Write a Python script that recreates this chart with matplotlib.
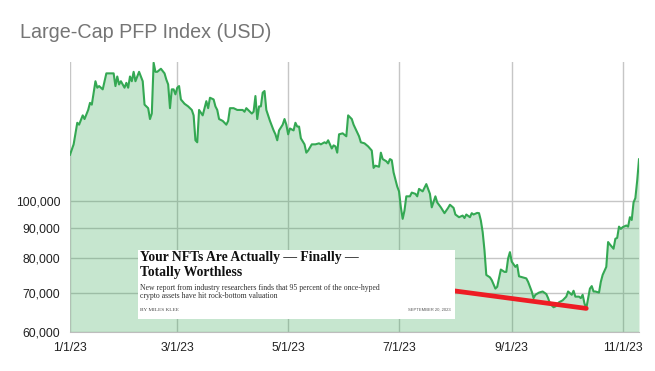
import matplotlib
matplotlib.use("Agg")
import matplotlib.pyplot as plt
import matplotlib.ticker as mticker
from matplotlib.patches import Rectangle
import pandas as pd

# ---- data (day offset from 2023-01-01, index value in thousands USD) ----
day_offsets = [0, 2, 4, 5, 7, 8, 10, 11, 12, 14, 15, 16, 18, 20, 22, 24, 25, 26, 27, 28,
               30, 31, 32, 33, 34, 35, 36, 37, 38, 40, 41, 43, 44, 45, 46, 47, 48, 50, 52, 53,
               54, 55, 56, 57, 58, 59, 60, 61, 63, 65, 67, 68, 69, 70, 71, 73, 75, 76, 77, 79,
               80, 81, 82, 84, 86, 87, 88, 90, 92, 93, 95, 96, 97, 98, 100, 101, 102, 103, 104, 105,
               106, 107, 108, 110, 112, 113, 114, 115, 117, 118, 119, 120, 121, 123, 124, 125, 126, 127, 129, 130,
               131, 133, 135, 137, 138, 140, 141, 142, 144, 145, 146, 147, 148, 150, 152, 153, 155, 156, 157, 159,
               160, 162, 164, 166, 167, 168, 170, 171, 172, 174, 175, 176, 177, 178, 179, 180, 181, 182, 183, 184,
               185, 186, 187, 188, 190, 191, 192, 194, 196, 198, 199, 201, 202, 204, 206, 208, 209, 211, 212, 214,
               216, 217, 218, 220, 221, 222, 224, 225, 226, 227, 228, 229, 231, 232, 234, 235, 236, 237, 239, 240,
               241, 242, 243, 245, 246, 247, 249, 251, 252, 254, 255, 256, 258, 260, 262, 263, 264, 266, 267, 269,
               271, 273, 274, 276, 277, 278, 280, 281, 282, 283, 284, 286, 287, 288, 289, 291, 292, 293, 295, 296,
               297, 299, 300, 301, 302, 303, 304, 306, 307, 308, 309, 310, 311, 312, 313]
index_k = [120, 125, 136, 135, 140, 138, 143, 147, 146, 160, 156, 157, 155, 165, 165, 165, 157, 163, 158, 160,
           156, 159, 156, 163, 160, 166, 160, 163, 166, 160, 146, 144, 138, 141, 172, 166, 166, 168, 165, 161,
           158, 144, 155, 155, 152, 156, 157, 149, 146.5, 145, 143, 140, 127, 126, 143, 140, 148, 144, 150, 149,
           145, 143, 138, 137, 135, 137, 144, 144, 143, 143, 143, 142, 144, 143, 141, 142, 151, 138, 145, 145,
           153, 154, 143, 137, 132, 130, 127, 132, 135, 138, 135, 130, 133, 132, 136, 134, 134, 128, 125, 121,
           122, 125, 125, 125.5, 125, 126, 125.5, 127, 123, 124.5, 124, 121, 130, 130.5, 129, 140, 138, 135, 133, 129,
           126, 125.5, 124, 122, 114, 115, 114.5, 121, 118, 117, 116, 118, 117.5, 112, 109, 106, 104, 97.7, 93.4, 96.5,
           102, 102, 102, 103.5, 103, 102, 105, 104, 107, 103, 97.7, 102, 99.6, 97.7, 95.5, 97.5, 98.7, 97.5, 95, 94,
           94.6, 93.7, 95, 94, 95.5, 95, 95.6, 95.5, 92.8, 88.7, 82.6, 75, 74.3, 73.5, 71.1, 71.6, 74, 76.6, 75.9, 75.9,
           80, 82, 79, 77.4, 78, 74.6, 74.3, 74, 73, 70.3, 68.5, 69.4, 70, 70.3, 69.6, 68.5, 67.1, 66.1, 66.3, 67.4,
           67.9, 68.9, 70.3, 69.4, 70.5, 68.9, 68.9, 68.5, 69.4, 67.1, 65.8, 71.1, 71.8, 70.3, 70.3, 70, 73, 75, 77.4, 85.3,
           84.5, 83.1, 86.4, 86.7, 90.6, 89.8, 90.4, 91, 90.6, 94, 93, 99.6, 101.3, 108.4, 117.9]
y_ticks = [60000, 70000, 80000, 90000, 100000]
x_tick_dates = ["2023-01-01", "2023-03-01", "2023-05-01", "2023-07-01", "2023-09-01", "2023-11-01"]
x_tick_labels = ["1/1/23", "3/1/23", "5/1/23", "7/1/23", "9/1/23", "11/1/23"]
# red annotation line (day offset, value in thousands)
trend_days = [211, 284]
trend_k = [70.5, 65.8]

title = "Large-Cap PFP Index (USD)"
article_headline = "Your NFTs Are Actually \u2014 Finally \u2014\nTotally Worthless"
article_dek = ("New report from industry researchers finds that 95 percent of the once-hyped\n"
               "crypto assets have hit rock-bottom valuation")
article_byline = "BY MILES KLEE"
article_date = "SEPTEMBER 20, 2023"

# ---- figure ----
W, H = 655, 371
fig = plt.figure(figsize=(W / 100, H / 100), dpi=100)
fig.patch.set_facecolor("white")
ax = fig.add_axes([70 / W, 1 - 332 / H, (639 - 70) / W, (332 - 62) / H])

start = pd.Timestamp("2023-01-01")
dates = [start + pd.Timedelta(days=d) for d in day_offsets]
values = [v * 1000 for v in index_k]

green = "#34a853"
ax.fill_between(dates, values, 60000, color=green, alpha=0.28, linewidth=0, zorder=2)
ax.plot(dates, values, color=green, linewidth=1.5, zorder=3, solid_joinstyle="round")

tdates = [start + pd.Timedelta(days=d) for d in trend_days]
ax.plot(tdates, [v * 1000 for v in trend_k], color="#ee1c24", linewidth=3.4,
        solid_capstyle="round", zorder=6)

ax.set_yscale("log")
ax.set_ylim(60000, 172500)
ax.set_xlim(start, start + pd.Timedelta(days=day_offsets[-1]))
ax.yaxis.set_major_locator(mticker.FixedLocator(y_ticks))
ax.yaxis.set_minor_locator(mticker.NullLocator())
ax.yaxis.set_major_formatter(mticker.FuncFormatter(lambda v, p: f"{int(round(v)):,}"))
ax.set_xticks([pd.Timestamp(d) for d in x_tick_dates])
ax.set_xticklabels(x_tick_labels)

ax.grid(True, color="#c6c6c6", linewidth=1.0, zorder=1)
ax.set_axisbelow(True)
for s in ["top", "right", "left"]:
    ax.spines[s].set_visible(False)
ax.spines["bottom"].set_color("#bdbdbd")
ax.tick_params(axis="both", length=0, labelsize=8.8, colors="#222222")
ax.tick_params(axis="y", pad=7)
ax.tick_params(axis="x", pad=7)
for lab in ax.get_xticklabels() + ax.get_yticklabels():
    lab.set_fontfamily("Liberation Sans")
ax.set_facecolor("white")

fig.text(20 / W, 1 - 33 / H, title, fontsize=14.2, color="#757575",
         fontfamily="Liberation Sans", va="center", ha="left")

# ---- inset article clipping ----
bx0, by0, bx1, by1 = 138, 250, 455, 319
fig.add_artist(Rectangle((bx0 / W, 1 - by1 / H), (bx1 - bx0) / W, (by1 - by0) / H,
                         transform=fig.transFigure, facecolor="white", edgecolor="none", zorder=4))
fig.text(140 / W, 1 - 251 / H, article_headline, fontsize=9.8, fontweight="bold",
         fontfamily="Liberation Serif", color="#111111", va="top", ha="left",
         linespacing=1.2, zorder=5)
fig.text(140 / W, 1 - 283.5 / H, article_dek, fontsize=5.6, fontfamily="Liberation Serif",
         color="#333333", va="top", ha="left", linespacing=1.15, zorder=5)
fig.text(140 / W, 1 - 310 / H, article_byline, fontsize=3.8, fontfamily="Liberation Serif",
         color="#444444", va="center", ha="left", zorder=5)
fig.text(451 / W, 1 - 310 / H, article_date, fontsize=3.0, fontfamily="Liberation Sans",
         color="#555555", va="center", ha="right", zorder=5)

fig.savefig("out.png", dpi=100, facecolor="white")
